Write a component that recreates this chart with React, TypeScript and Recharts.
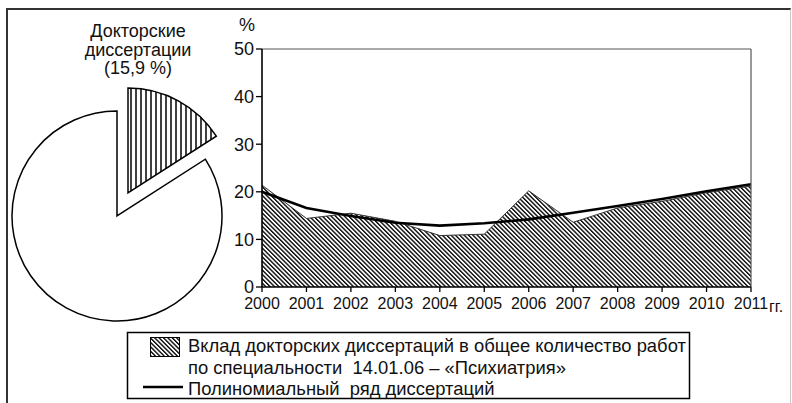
import React from 'react';
import { ComposedChart, Area, Line, XAxis, YAxis, ReferenceLine, PieChart, Pie, Cell } from 'recharts';

const years = [2000, 2001, 2002, 2003, 2004, 2005, 2006, 2007, 2008, 2009, 2010, 2011];
const contribution = [21.4, 14.4, 15.5, 13.8, 10.8, 11.1, 20.2, 13.6, 16.6, 18.0, 19.8, 21.2];
const polynomial = [20.0, 16.6, 14.9, 13.5, 12.9, 13.4, 14.2, 15.6, 17.0, 18.5, 20.1, 21.6];
const yTicks = [0, 10, 20, 30, 40, 50];
const pieNames = ['Докторские диссертации', 'Прочие'];
const pieValues = [15.9, 84.1];
const pieLabel = ['Докторские', 'диссертации', '(15,9 %)'];
const legendArea = ['Вклад докторских диссертаций в общее количество работ', 'по специальности  14.01.06 – «Психиатрия»'];
const legendLine = 'Полиномиальный  ряд диссертаций';

const FONT = '"Liberation Sans", Arial, sans-serif';

const data = years.map((y, i) => ({ year: y, contribution: contribution[i], polynomial: polynomial[i] }));
const pieData = pieNames.map((n, i) => ({ name: n, value: pieValues[i] }));

export default function App() {
  return (
    <div style={{ position: 'absolute', left: 0, top: 0, width: 792, height: 403, background: '#fff', fontFamily: FONT, overflow: 'hidden' }}>
      <svg width={0} height={0} style={{ position: 'absolute' }}>
        <defs>
          <pattern id="diagHatch" patternUnits="userSpaceOnUse" width={3.1} height={3.1} patternTransform="rotate(-45)">
            <rect x={0} y={0} width={3.1} height={3.1} fill="#fff" />
            <line x1={0.7} y1={0} x2={0.7} y2={3.1} stroke="#000" strokeWidth={1.35} />
          </pattern>
          <pattern id="vertHatch" patternUnits="userSpaceOnUse" width={5} height={5}>
            <rect x={0} y={0} width={5} height={5} fill="#fff" />
            <line x1={1} y1={0} x2={1} y2={5} stroke="#000" strokeWidth={1.5} />
          </pattern>
        </defs>
      </svg>
      <div style={{ position: 'absolute', left: 6, top: 8, width: 782, height: 420, borderLeft: '2px solid #333', borderTop: '2px solid #333', borderRight: '1px solid #c8c8c8' }} />

      <div style={{ position: 'absolute', left: 0, top: 0 }}>
        <PieChart width={260} height={340} margin={{ top: 0, right: 0, bottom: 0, left: 0 }}>
          <Pie data={pieData} dataKey="value" cx={117} cy={216} outerRadius={105} startAngle={90} endAngle={-270} isAnimationActive={false} stroke="#000" strokeWidth={1.5}>
            <Cell fill="none" stroke="none" />
            <Cell fill="#fff" stroke="#000" />
          </Pie>
          <Pie data={pieData} dataKey="value" cx={128} cy={193} outerRadius={105} startAngle={90} endAngle={-270} isAnimationActive={false} stroke="#000" strokeWidth={1.5}>
            <Cell fill="url(#vertHatch)" stroke="#000" />
            <Cell fill="none" stroke="none" />
          </Pie>
        </PieChart>
      </div>

      <div style={{ position: 'absolute', left: 0, top: 0 }}>
        <ComposedChart width={792} height={403} data={data} margin={{ top: 49, right: 41, bottom: 86, left: 0 }}>
          <XAxis dataKey="year" type="number" domain={[2000, 2011]} ticks={years} interval={0} height={30}
            axisLine={{ stroke: '#000', strokeWidth: 1.6 }} tickLine={{ stroke: '#000', strokeWidth: 1.3 }} tickSize={5} tickMargin={6}
            tick={{ fill: '#111', fontSize: 16, fontFamily: FONT }} allowDecimals={false} />
          <YAxis type="number" domain={[0, 50]} ticks={yTicks} width={262} interval={0}
            axisLine={{ stroke: '#000', strokeWidth: 1.6 }} tickLine={{ stroke: '#000', strokeWidth: 1.3 }} tickSize={6} tickMargin={2}
            tick={{ fill: '#111', fontSize: 18, fontFamily: FONT }} />
          <Area type="linear" dataKey="contribution" fill="url(#diagHatch)" fillOpacity={1} stroke="#333" strokeWidth={1} isAnimationActive={false} dot={false} activeDot={false} />
          <Line type="linear" dataKey="polynomial" stroke="#000" strokeWidth={2.6} dot={false} activeDot={false} isAnimationActive={false} />
          <ReferenceLine y={50} stroke="#555" strokeWidth={1.2} />
          <ReferenceLine x={2011} stroke="#555" strokeWidth={1.2} />
        </ComposedChart>
      </div>

      <svg width={792} height={403} style={{ position: 'absolute', left: 0, top: 0, pointerEvents: 'none' }}>
        <g fontFamily={FONT} fill="#111">
          {pieLabel.map((t, i) => (
            <text key={i} x={138} y={37 + i * 18.5} fontSize={18} textAnchor="middle">{t}</text>
          ))}
          <text x={247} y={31} fontSize={18} textAnchor="middle">%</text>
          <text x={769} y={312} fontSize={16}>гг.</text>
          <rect x={127.5} y={332.5} width={562} height={66} fill="#fff" stroke="#000" strokeWidth={1.5} />
          <rect x={150.5} y={337.5} width={29} height={19} fill="url(#diagHatch)" stroke="#000" strokeWidth={1} />
          <line x1={143} y1={387} x2={183} y2={387} stroke="#000" strokeWidth={2.6} />
          {legendArea.map((t, i) => (
            <text key={i} x={188} y={352 + i * 21.5} fontSize={18.4} style={{ whiteSpace: 'pre' }}>{t}</text>
          ))}
          <text x={188} y={395} fontSize={18.4} style={{ whiteSpace: 'pre' }}>{legendLine}</text>
        </g>
      </svg>
    </div>
  );
}
